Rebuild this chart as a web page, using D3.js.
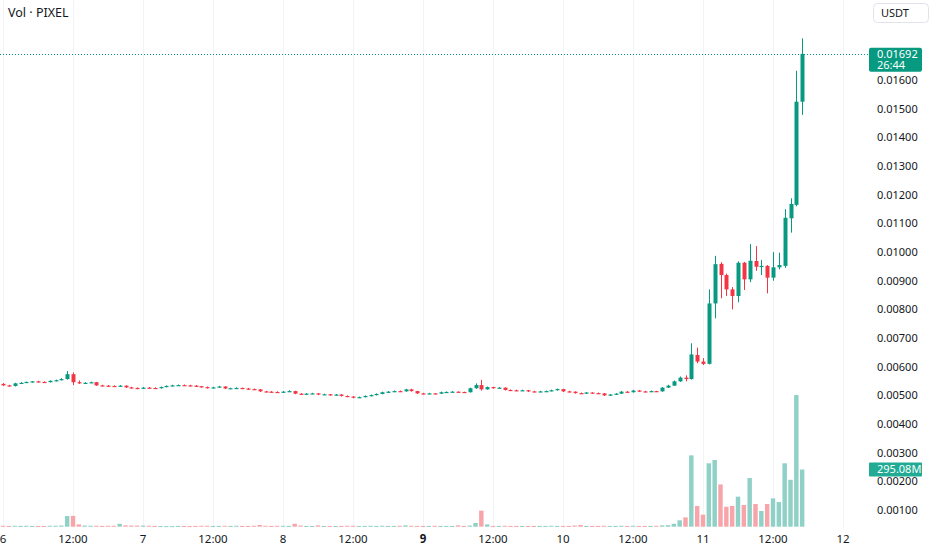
<!DOCTYPE html>
<html>
<head>
<meta charset="utf-8">
<script src="https://cdn.jsdelivr.net/npm/d3@7"></script>
<style>
  html, body { margin: 0; padding: 0; background: #fff; }
  svg { display: block; font-family: "Noto Sans", sans-serif; }
</style>
</head>
<body>
<div id="chart"></div>
<script>
// hourly candles, first one at day 6 00:00
const startTime = Date.UTC(2024, 2, 6, 0);

// [open, high, low, close]
const candles = [
  [0.00540, 0.00543, 0.00533, 0.00535], [0.00535, 0.00537, 0.00531, 0.00533],
  [0.00533, 0.00544, 0.00531, 0.00542], [0.00542, 0.00546, 0.00541, 0.00544],
  [0.00544, 0.00548, 0.00543, 0.00547], [0.00547, 0.00550, 0.00545, 0.00549],
  [0.00549, 0.00551, 0.00545, 0.00547], [0.00547, 0.00549, 0.00544, 0.00546],
  [0.00546, 0.00552, 0.00545, 0.00551], [0.00551, 0.00555, 0.00549, 0.00553],
  [0.00553, 0.00560, 0.00552, 0.00557], [0.00557, 0.00585, 0.00555, 0.00574],
  [0.00574, 0.00580, 0.00536, 0.00546], [0.00546, 0.00552, 0.00540, 0.00543],
  [0.00543, 0.00546, 0.00541, 0.00544], [0.00544, 0.00548, 0.00543, 0.00546],
  [0.00546, 0.00547, 0.00533, 0.00535], [0.00535, 0.00537, 0.00532, 0.00534],
  [0.00534, 0.00536, 0.00531, 0.00533], [0.00533, 0.00535, 0.00530, 0.00532],
  [0.00532, 0.00536, 0.00531, 0.00534], [0.00534, 0.00535, 0.00526, 0.00528],
  [0.00528, 0.00530, 0.00524, 0.00526], [0.00526, 0.00528, 0.00522, 0.00524],
  [0.00524, 0.00529, 0.00523, 0.00527], [0.00527, 0.00529, 0.00524, 0.00526],
  [0.00526, 0.00528, 0.00523, 0.00525], [0.00525, 0.00531, 0.00524, 0.00529],
  [0.00529, 0.00535, 0.00528, 0.00533], [0.00533, 0.00537, 0.00532, 0.00535],
  [0.00535, 0.00538, 0.00534, 0.00536], [0.00536, 0.00538, 0.00533, 0.00535],
  [0.00535, 0.00537, 0.00532, 0.00534], [0.00534, 0.00536, 0.00530, 0.00532],
  [0.00532, 0.00533, 0.00527, 0.00529], [0.00529, 0.00531, 0.00524, 0.00526],
  [0.00526, 0.00530, 0.00525, 0.00528], [0.00528, 0.00533, 0.00527, 0.00531],
  [0.00531, 0.00532, 0.00522, 0.00524], [0.00524, 0.00527, 0.00523, 0.00525],
  [0.00525, 0.00528, 0.00524, 0.00526], [0.00526, 0.00527, 0.00522, 0.00524],
  [0.00524, 0.00526, 0.00520, 0.00522], [0.00522, 0.00524, 0.00519, 0.00521],
  [0.00521, 0.00522, 0.00512, 0.00514], [0.00514, 0.00516, 0.00511, 0.00513],
  [0.00513, 0.00515, 0.00510, 0.00512], [0.00512, 0.00514, 0.00509, 0.00511],
  [0.00511, 0.00515, 0.00510, 0.00513], [0.00513, 0.00518, 0.00512, 0.00515],
  [0.00515, 0.00516, 0.00504, 0.00506], [0.00506, 0.00508, 0.00503, 0.00505],
  [0.00505, 0.00508, 0.00504, 0.00506], [0.00506, 0.00509, 0.00505, 0.00507],
  [0.00507, 0.00508, 0.00501, 0.00503], [0.00503, 0.00506, 0.00502, 0.00504],
  [0.00504, 0.00505, 0.00499, 0.00501], [0.00501, 0.00505, 0.00500, 0.00503],
  [0.00503, 0.00504, 0.00496, 0.00498], [0.00498, 0.00500, 0.00494, 0.00496],
  [0.00496, 0.00497, 0.00490, 0.00492], [0.00492, 0.00496, 0.00491, 0.00494],
  [0.00494, 0.00500, 0.00493, 0.00498], [0.00498, 0.00503, 0.00497, 0.00501],
  [0.00501, 0.00507, 0.00500, 0.00505], [0.00505, 0.00513, 0.00504, 0.00511],
  [0.00511, 0.00515, 0.00510, 0.00513], [0.00513, 0.00517, 0.00512, 0.00515],
  [0.00515, 0.00517, 0.00512, 0.00514], [0.00514, 0.00523, 0.00513, 0.00521],
  [0.00521, 0.00523, 0.00513, 0.00515], [0.00515, 0.00516, 0.00505, 0.00507],
  [0.00507, 0.00509, 0.00504, 0.00506], [0.00506, 0.00509, 0.00505, 0.00507],
  [0.00507, 0.00508, 0.00504, 0.00506], [0.00506, 0.00513, 0.00505, 0.00511],
  [0.00511, 0.00514, 0.00510, 0.00512], [0.00512, 0.00515, 0.00511, 0.00513],
  [0.00513, 0.00514, 0.00510, 0.00512], [0.00512, 0.00513, 0.00509, 0.00511],
  [0.00511, 0.00527, 0.00510, 0.00525], [0.00525, 0.00542, 0.00523, 0.00536],
  [0.00536, 0.00554, 0.00517, 0.00521], [0.00521, 0.00531, 0.00520, 0.00529],
  [0.00529, 0.00530, 0.00524, 0.00526], [0.00526, 0.00529, 0.00525, 0.00527],
  [0.00527, 0.00528, 0.00517, 0.00519], [0.00519, 0.00521, 0.00516, 0.00518],
  [0.00518, 0.00520, 0.00515, 0.00517], [0.00517, 0.00520, 0.00516, 0.00518],
  [0.00518, 0.00519, 0.00512, 0.00514], [0.00514, 0.00516, 0.00511, 0.00513],
  [0.00513, 0.00516, 0.00512, 0.00514], [0.00514, 0.00517, 0.00513, 0.00515],
  [0.00515, 0.00520, 0.00514, 0.00518], [0.00518, 0.00524, 0.00517, 0.00522],
  [0.00522, 0.00523, 0.00512, 0.00514], [0.00514, 0.00516, 0.00511, 0.00513],
  [0.00513, 0.00514, 0.00506, 0.00508], [0.00508, 0.00510, 0.00505, 0.00507],
  [0.00507, 0.00512, 0.00506, 0.00510], [0.00510, 0.00511, 0.00506, 0.00508],
  [0.00508, 0.00510, 0.00505, 0.00507], [0.00507, 0.00508, 0.00498, 0.00500],
  [0.00500, 0.00505, 0.00499, 0.00503], [0.00503, 0.00508, 0.00502, 0.00506],
  [0.00506, 0.00515, 0.00505, 0.00513], [0.00513, 0.00515, 0.00509, 0.00511],
  [0.00511, 0.00519, 0.00510, 0.00517], [0.00517, 0.00518, 0.00512, 0.00514],
  [0.00514, 0.00516, 0.00511, 0.00513], [0.00513, 0.00517, 0.00512, 0.00515],
  [0.00515, 0.00516, 0.00512, 0.00514], [0.00514, 0.00529, 0.00513, 0.00527],
  [0.00527, 0.00537, 0.00526, 0.00534], [0.00534, 0.00552, 0.00533, 0.00549],
  [0.00549, 0.00566, 0.00547, 0.00562], [0.00562, 0.00570, 0.00549, 0.00557],
  [0.00557, 0.00682, 0.00555, 0.00643], [0.00641, 0.00667, 0.00612, 0.00618],
  [0.00618, 0.00630, 0.00606, 0.00610], [0.00610, 0.00870, 0.00608, 0.00821],
  [0.00821, 0.00987, 0.00769, 0.00958], [0.00959, 0.00965, 0.00839, 0.00920],
  [0.00920, 0.00925, 0.00847, 0.00870], [0.00870, 0.00878, 0.00800, 0.00847],
  [0.00847, 0.00968, 0.00825, 0.00963], [0.00963, 0.00966, 0.00868, 0.00905],
  [0.00905, 0.01028, 0.00895, 0.00970], [0.00969, 0.01021, 0.00935, 0.00949],
  [0.00948, 0.00973, 0.00920, 0.00952], [0.00952, 0.00955, 0.00856, 0.00911],
  [0.00911, 0.01000, 0.00900, 0.00947], [0.00947, 0.00998, 0.00940, 0.00955],
  [0.00952, 0.01150, 0.00945, 0.01120], [0.01118, 0.01188, 0.01068, 0.01168],
  [0.01165, 0.01633, 0.01160, 0.01525], [0.01525, 0.01746, 0.01479, 0.01692]
];

// volume per candle, millions
const volumes = [
  5, 4, 5, 4, 5, 4, 4, 4, 5, 5, 6, 55, 56, 12, 6, 5, 5, 4, 5, 5,
  15, 7, 6, 6, 6, 5, 4, 3, 3, 3, 4, 4, 3, 4, 5, 5, 4, 4, 5, 4,
  5, 4, 4, 5, 9, 5, 4, 5, 5, 4, 15, 6, 4, 4, 7, 4, 4, 4, 4, 5,
  5, 4, 4, 5, 4, 5, 4, 4, 5, 7, 5, 4, 4, 4, 5, 4, 4, 4, 7, 4,
  6, 19, 83, 12, 4, 4, 5, 4, 4, 4, 4, 4, 4, 4, 5, 4, 4, 4, 6, 9,
  4, 4, 4, 5, 4, 4, 5, 4, 5, 4, 4, 4, 5, 7, 8, 15, 33, 48, 368, 107,
  62, 327, 344, 218, 103, 107, 155, 112, 251, 117, 81, 117, 146, 127, 327, 242, 679, 295.08
];

const priceTicks = [0.001, 0.002, 0.003, 0.004, 0.005, 0.006, 0.007, 0.008,
  0.009, 0.010, 0.011, 0.012, 0.013, 0.014, 0.015, 0.016];

// time labels every 12 hours from day 6
const timeTickHours = [0, 12, 24, 36, 48, 60, 72, 84, 96, 108, 120, 132, 144];
const timeTickLabels = ["6", "12:00", "7", "12:00", "8", "12:00", "9", "12:00",
  "10", "12:00", "11", "12:00", "12"];

const lastPriceText = "0.01692";
const countdownText = "26:44";
const lastVolumeText = "295.08M";
const legendText = "Vol · PIXEL";
const currencyText = "USDT";

const width = 932;
const height = 550;
const paneRight = 862;
const paneBottom = 528;

const upColor = "#089981";
const downColor = "#f23645";
const upVol = "#8fd1c6";
const downVol = "#f7a5aa";
const gridColor = "#f0f3fa";
const textColor = "#131722";
const axisFont = 11;

const hour = 3600 * 1000;
const data = candles.map((c, i) => ({
  t: new Date(startTime + i * hour),
  open: c[0], high: c[1], low: c[2], close: c[3],
  volume: volumes[i]
}));

const x = d3.scaleTime()
  .domain([new Date(startTime), new Date(startTime + 144 * hour)])
  .range([3, 843]);

const y = d3.scaleLinear().domain([0, 0.0188]).range([538.65, 0]);
const yVol = d3.scaleLinear().domain([0, 700]).range([526.7, 391]);

const step = x(new Date(startTime + hour)) - x(new Date(startTime));
const bodyW = Math.max(1, step * 0.68);
const volW = step * 0.76;

const svg = d3.select("#chart").append("svg")
  .attr("width", width)
  .attr("height", height);

// vertical grid at each time label
svg.append("g")
  .selectAll("line")
  .data(timeTickHours)
  .join("line")
  .attr("x1", (d) => Math.round(x(new Date(startTime + d * hour))) + 0.5)
  .attr("x2", (d) => Math.round(x(new Date(startTime + d * hour))) + 0.5)
  .attr("y1", 0)
  .attr("y2", paneBottom)
  .attr("stroke", gridColor);

// volume bars
svg.append("g")
  .selectAll("rect")
  .data(data)
  .join("rect")
  .attr("x", (d) => x(d.t) - volW / 2)
  .attr("width", volW)
  .attr("y", (d) => yVol(d.volume))
  .attr("height", (d) => Math.max(1, yVol(0) - yVol(d.volume)))
  .attr("fill", (d) => (d.close >= d.open ? upVol : downVol));

// candles
const gC = svg.append("g");
gC.selectAll("line")
  .data(data)
  .join("line")
  .attr("x1", (d) => Math.round(x(d.t)) + 0.5)
  .attr("x2", (d) => Math.round(x(d.t)) + 0.5)
  .attr("y1", (d) => y(d.high))
  .attr("y2", (d) => y(d.low))
  .attr("stroke", (d) => (d.close >= d.open ? upColor : downColor))
  .attr("stroke-width", 1);

gC.selectAll("rect")
  .data(data)
  .join("rect")
  .attr("x", (d) => Math.round(x(d.t)) + 0.5 - bodyW / 2)
  .attr("width", bodyW)
  .attr("y", (d) => y(Math.max(d.open, d.close)))
  .attr("height", (d) => Math.max(1.2, Math.abs(y(d.open) - y(d.close))))
  .attr("fill", (d) => (d.close >= d.open ? upColor : downColor));

// last price line
const last = data[data.length - 1];
svg.append("line")
  .attr("x1", 0)
  .attr("x2", paneRight + 6)
  .attr("y1", Math.round(y(last.close)) + 0.5)
  .attr("y2", Math.round(y(last.close)) + 0.5)
  .attr("stroke", upColor)
  .attr("stroke-width", 1)
  .attr("stroke-dasharray", "1,2");

// price axis labels
svg.append("g")
  .selectAll("text")
  .data(priceTicks)
  .join("text")
  .attr("x", 877)
  .attr("y", (d) => y(d))
  .attr("dy", "0.35em")
  .attr("font-size", axisFont)
  .attr("fill", textColor)
  .text((d) => d.toFixed(5));

// time axis labels
svg.append("g")
  .selectAll("text")
  .data(timeTickHours)
  .join("text")
  .attr("x", (d) => x(new Date(startTime + d * hour)))
  .attr("y", 539)
  .attr("dy", "0.35em")
  .attr("text-anchor", "middle")
  .attr("font-size", 11.5)
  .attr("font-weight", (d, i) => (timeTickLabels[i] === "9" ? 700 : 400))
  .attr("fill", textColor)
  .text((d, i) => timeTickLabels[i]);

// last price badge
const badgeY = y(last.close) - 6.2;
svg.append("rect")
  .attr("x", 869).attr("y", badgeY)
  .attr("width", 53).attr("height", 24)
  .attr("rx", 2)
  .attr("fill", upColor);
svg.append("text")
  .attr("x", 877).attr("y", badgeY + 6.4).attr("dy", "0.35em")
  .attr("font-size", axisFont).attr("fill", "#fff")
  .text(lastPriceText);
svg.append("text")
  .attr("x", 877).attr("y", badgeY + 17.8).attr("dy", "0.35em")
  .attr("font-size", axisFont).attr("fill", "#fff")
  .text(countdownText);

// last volume badge
const vBadgeY = yVol(last.volume);
svg.append("rect")
  .attr("x", 869).attr("y", vBadgeY - 7)
  .attr("width", 53).attr("height", 14)
  .attr("rx", 1)
  .attr("fill", "#22ab94");
svg.append("text")
  .attr("x", 877).attr("y", vBadgeY).attr("dy", "0.35em")
  .attr("font-size", axisFont).attr("fill", "#fff")
  .text(lastVolumeText);

// legend
svg.append("text")
  .attr("x", 8).attr("y", 13).attr("dy", "0.35em")
  .attr("font-size", 12.5)
  .attr("fill", textColor)
  .text(legendText);

// currency button
svg.append("rect")
  .attr("x", 873.5).attr("y", 3.5)
  .attr("width", 55).attr("height", 19)
  .attr("rx", 4)
  .attr("fill", "#fff")
  .attr("stroke", "#e0e3eb");
svg.append("text")
  .attr("x", 881).attr("y", 13).attr("dy", "0.35em")
  .attr("font-size", axisFont)
  .attr("fill", textColor)
  .text(currencyText);
</script>
</body>
</html>
